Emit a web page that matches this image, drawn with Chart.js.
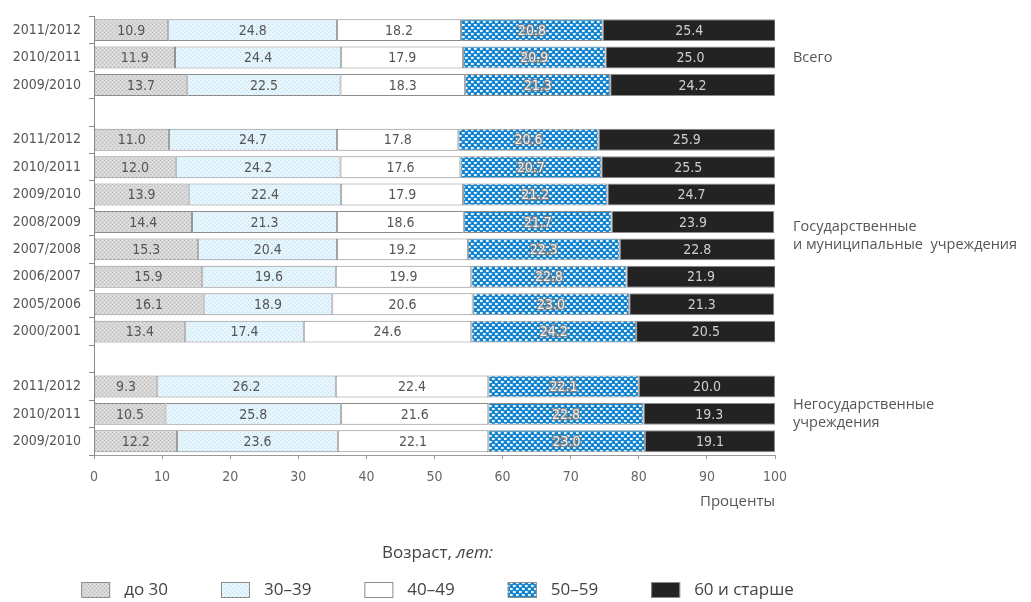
<!DOCTYPE html>
<html>
<head>
<meta charset="utf-8">
<script src="https://cdn.jsdelivr.net/npm/chart.js@4.4.1/dist/chart.umd.min.js"></script>
<style>
html,body{margin:0;padding:0;background:#fff;}
#c{display:block;}
</style>
</head>
<body>
<canvas id="c" width="1031" height="602"></canvas>
<script>
// ---- data ----
const categories = ['2011/2012','2010/2011','2009/2010','',
  '2011/2012','2010/2011','2009/2010','2008/2009','2007/2008','2006/2007','2005/2006','2000/2001','',
  '2011/2012','2010/2011','2009/2010'];
const under30  = [10.9,11.9,13.7,null, 11.0,12.0,13.9,14.4,15.3,15.9,16.1,13.4,null, 9.3,10.5,12.2];
const age30_39 = [24.8,24.4,22.5,null, 24.7,24.2,22.4,21.3,20.4,19.6,18.9,17.4,null, 26.2,25.8,23.6];
const age40_49 = [18.2,17.9,18.3,null, 17.8,17.6,17.9,18.6,19.2,19.9,20.6,24.6,null, 22.4,21.6,22.1];
const age50_59 = [20.8,20.9,21.3,null, 20.6,20.7,21.2,21.7,22.3,22.8,23.0,24.2,null, 22.1,22.8,23.0];
const age60plus= [25.4,25.0,24.2,null, 25.9,25.5,24.7,23.9,22.8,21.9,21.3,20.5,null, 20.0,19.3,19.1];
const seriesNames = ['до 30','30–39','40–49','50–59','60 и старше'];
const xTicks = [0,10,20,30,40,50,60,70,80,90,100];
const groupLabels = [
  {lines:['Всего'], first:0, last:2},
  {lines:['Государственные','и муниципальные  учреждения'], first:4, last:11},
  {lines:['Негосударственные','учреждения'], first:13, last:15}
];
const axisTitle = 'Проценты';
const legendTitle = ['Возраст, ', 'лет:'];

// ---- patterns ----
function makePattern(w, h, draw){
  const t = document.createElement('canvas');
  t.width = w; t.height = h;
  const g = t.getContext('2d');
  draw(g);
  return document.getElementById('c').getContext('2d').createPattern(t, 'repeat');
}
const grayPat = makePattern(4,4,g=>{
  g.fillStyle='#d6d6d6'; g.fillRect(0,0,4,4);
  g.fillStyle='#bcbcbc'; g.fillRect(0,0,1,1); g.fillRect(2,2,1,1);
  g.fillStyle='#e6e6e6'; g.fillRect(2,0,1,1); g.fillRect(0,2,1,1);
});
const lightBluePat = makePattern(4,4,g=>{
  g.fillStyle='#e3f4fc'; g.fillRect(0,0,4,4);
  g.fillStyle='#bfe2f4'; g.fillRect(0,0,1,1); g.fillRect(2,2,1,1);
  g.fillStyle='#f2fafe'; g.fillRect(2,0,1,1); g.fillRect(0,2,1,1);
});
const bluePat = makePattern(6,6,g=>{
  g.fillStyle='#1b8ad2'; g.fillRect(0,0,6,6);
  g.fillStyle='#0d67b4'; g.fillRect(1,4,1,1); g.fillRect(4,1,1,1);
  g.fillStyle='#eaf5fc'; g.fillRect(0,0,2,2); g.fillRect(3,3,2,2);
  g.fillStyle='#9fd0ef'; g.fillRect(2,0,1,2); g.fillRect(5,3,1,2);
});
const fills = [grayPat, lightBluePat, '#ffffff', bluePat, '#232323'];
const labelColors = ['#555','#555','#555','#f2f2f2','#cfcfcf'];
const valuesList = [under30, age30_39, age40_49, age50_59, age60plus];

const NARROW = '"Liberation Sans Narrow","DejaVu Sans Condensed","Liberation Sans",sans-serif';
const HUMAN = '"Open Sans","Noto Sans",sans-serif';

const datasets = valuesList.map((vals,i)=>({
  label: seriesNames[i],
  data: vals,
  backgroundColor: fills[i],
  borderColor: '#8c8c8c',
  borderWidth: 1,
  borderSkipped: false,
  barPercentage: 0.8,
  categoryPercentage: 1.0
}));

// ---- plugins ----
const valueLabels = {
  id:'valueLabels',
  afterDatasetsDraw(chart){
    const ctx = chart.ctx;
    ctx.save();
    ctx.font = '14px ' + NARROW;
    ctx.textAlign = 'center';
    ctx.textBaseline = 'middle';
    chart.data.datasets.forEach((ds, di)=>{
      const meta = chart.getDatasetMeta(di);
      meta.data.forEach((el, i)=>{
        const v = ds.data[i];
        if (v === null || v === undefined) return;
        const cx = (el.x + el.base)/2;
        const cy = el.y + 1;
        const txt = v.toFixed(1);
        if (di === 3) {
          ctx.lineWidth = 2.5;
          ctx.strokeStyle = 'rgba(120,120,120,0.8)';
          ctx.strokeText(txt, cx, cy);
        }
        ctx.fillStyle = labelColors[di];
        ctx.fillText(txt, cx, cy);
      });
    });
    ctx.restore();
  }
};

const sideLabels = {
  id:'sideLabels',
  afterDraw(chart){
    const ctx = chart.ctx;
    const ys = chart.scales.y;
    ctx.save();
    ctx.font = '14.5px ' + HUMAN;
    ctx.fillStyle = '#555';
    ctx.textAlign = 'left';
    ctx.textBaseline = 'middle';
    const lh = 18;
    groupLabels.forEach(gl=>{
      const yc = (ys.getPixelForValue(gl.first) + ys.getPixelForValue(gl.last))/2;
      const n = gl.lines.length;
      gl.lines.forEach((ln, k)=>{
        ctx.fillText(ln, chart.chartArea.right + 18, yc + (k - (n-1)/2)*lh);
      });
    });
    ctx.restore();
  }
};

const customLegend = {
  id:'customLegend',
  afterDraw(chart){
    const ctx = chart.ctx;
    const ca = chart.chartArea;
    const center = (ca.left + ca.right)/2 + 3;
    ctx.save();
    // title
    ctx.textBaseline = 'middle';
    const f1 = '17px ' + HUMAN, f2 = 'italic 17px ' + HUMAN;
    ctx.font = f1; const w1 = ctx.measureText(legendTitle[0]).width;
    ctx.font = f2; const w2 = ctx.measureText(legendTitle[1]).width;
    let tx = center - (w1+w2)/2;
    ctx.fillStyle = '#444';
    ctx.font = f1; ctx.textAlign='left'; ctx.fillText(legendTitle[0], tx, 553);
    ctx.font = f2; ctx.fillText(legendTitle[1], tx + w1, 553);
    // items
    const boxW = 29, boxH = 16, gapBT = 14, gapItem = 53;
    ctx.font = '17px ' + HUMAN;
    const items = chart.data.datasets.map(ds=>({text:ds.label, fill:ds.backgroundColor, w: boxW + gapBT + ctx.measureText(ds.label).width}));
    const total = items.reduce((s,it)=>s+it.w,0) + gapItem*(items.length-1);
    let x = center - total/2;
    const y = 590;
    items.forEach(it=>{
      ctx.fillStyle = it.fill;
      ctx.fillRect(x, y - boxH/2, boxW, boxH);
      ctx.strokeStyle = '#8c8c8c'; ctx.lineWidth = 1;
      ctx.strokeRect(x+0.5, y - boxH/2 + 0.5, boxW-1, boxH-1);
      ctx.fillStyle = '#444';
      ctx.fillText(it.text, x + boxW + gapBT, y);
      x += it.w + gapItem;
    });
    ctx.restore();
  }
};

new Chart(document.getElementById('c'), {
  type:'bar',
  data:{labels:categories, datasets},
  options:{
    indexAxis:'y',
    responsive:false,
    animation:false,
    events:[],
    layout:{padding:{top:14,right:256,bottom:87,left:0}},
    plugins:{legend:{display:false}, tooltip:{enabled:false}, title:{display:false}},
    scales:{
      y:{
        stacked:true,
        grid:{drawOnChartArea:false, drawTicks:true, tickLength:5, color:'#888', offset:true},
        border:{color:'#888', width:1},
        ticks:{color:'#555', font:{family:NARROW, size:14}, padding:8, autoSkip:false},
        afterFit(s){ s.width = 94; }
      },
      x:{
        stacked:true,
        min:0, max:100,
        afterBuildTicks(s){ s.ticks = xTicks.map(v=>({value:v})); },
        grid:{drawOnChartArea:false, drawTicks:true, tickLength:4, color:'#999'},
        border:{color:'#999', width:1},
        ticks:{color:'#666', font:{family:NARROW, size:14}, padding:10},
        title:{display:true, text:axisTitle, align:'end', color:'#555', font:{family:HUMAN, size:15}, padding:{top:0,bottom:4}},
        afterFit(s){ s.height = 60; }
      }
    }
  },
  plugins:[valueLabels, sideLabels, customLegend]
});
</script>
</body>
</html>
